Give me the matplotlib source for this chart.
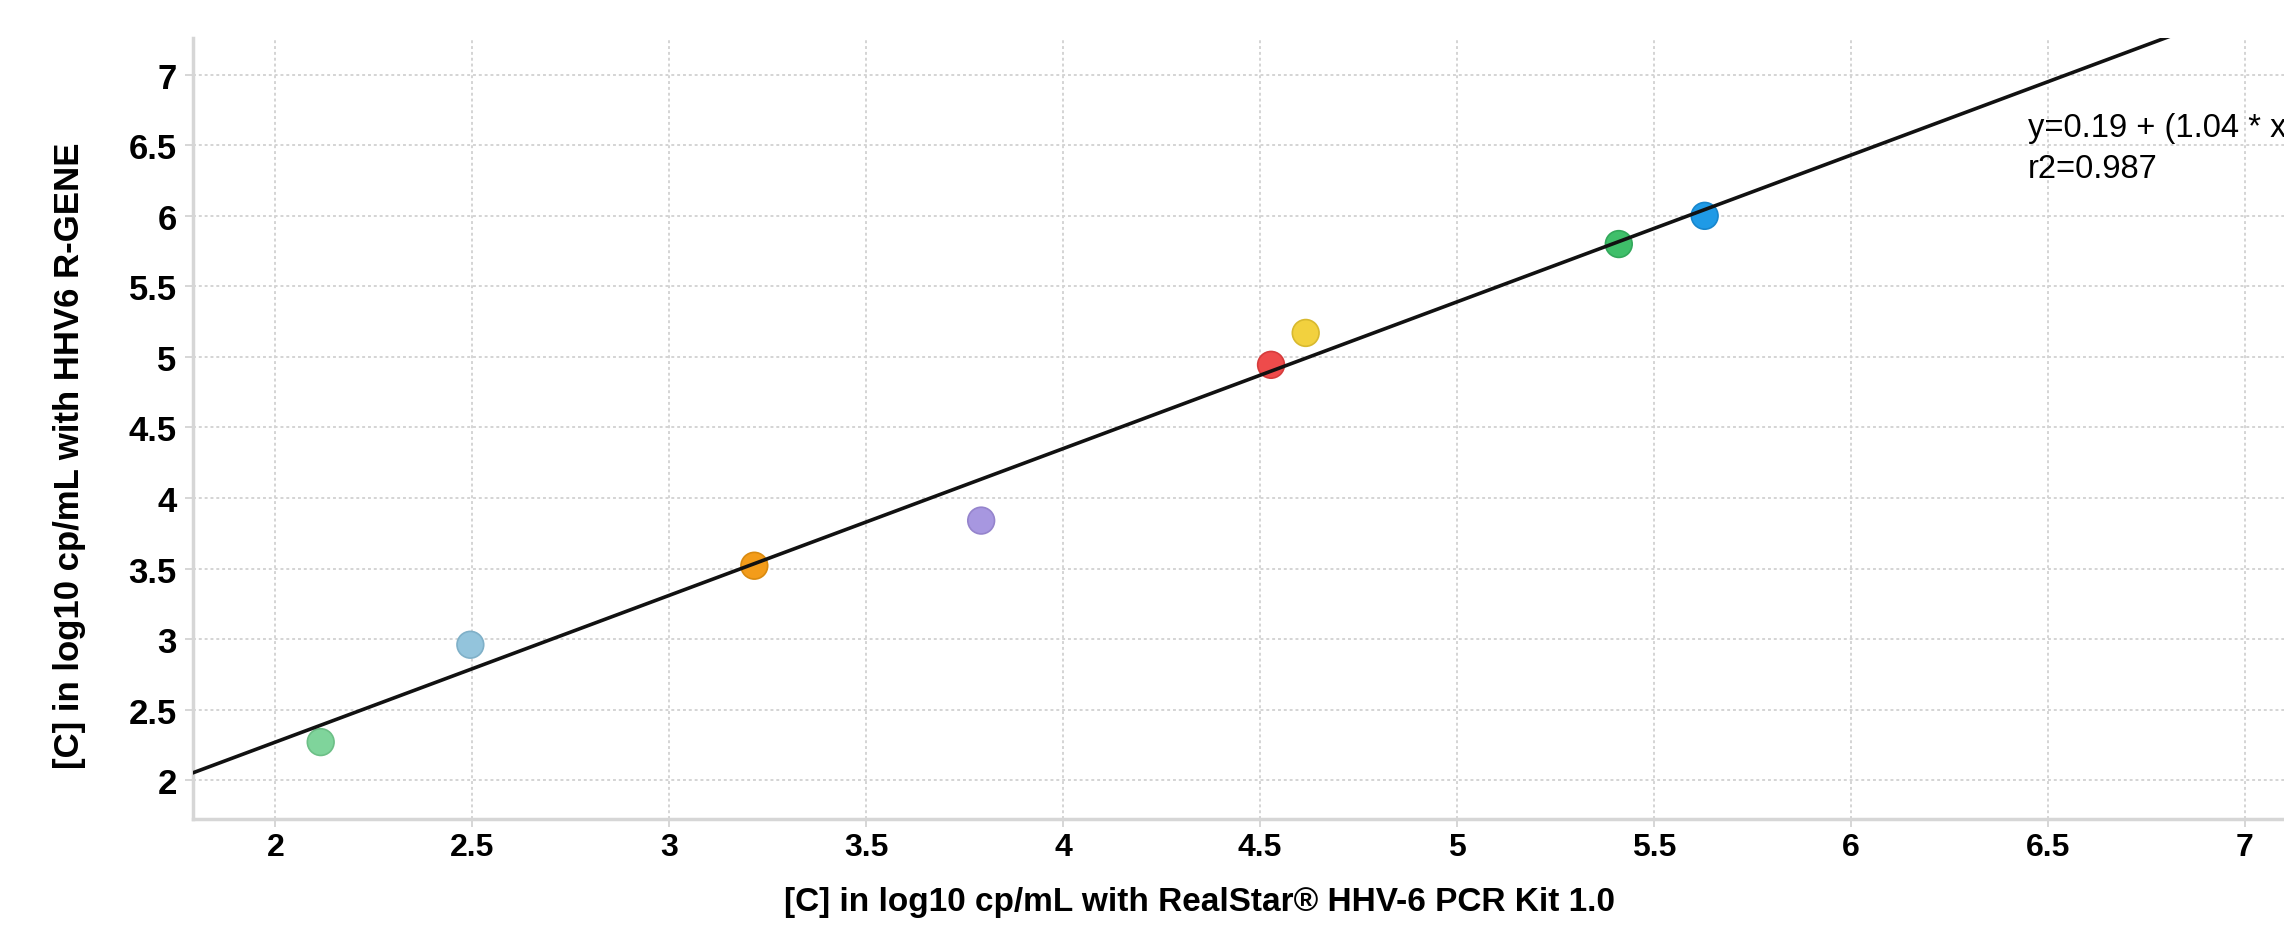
import matplotlib
matplotlib.use("Agg")
import matplotlib.pyplot as plt
import numpy as np

# Data
x_vals = [2.115, 2.495, 3.216, 3.792, 4.528, 4.616, 5.411, 5.629]
y_vals = [2.27, 2.96, 3.52, 3.84, 4.944, 5.17, 5.80, 6.00]
colors = ["#7fd49b", "#93c4dc", "#f39c1a", "#a797e0", "#ee4b4b", "#f2d13e", "#3fbf6a", "#1f9ae6"]
edge_colors = ["#6cbf86", "#7fb0c8", "#d98a10", "#9584cc", "#d63c3c", "#d8b92e", "#33a85b", "#1886cc"]
intercept = 0.19
slope = 1.04
r2 = 0.987
xticks = [2, 2.5, 3, 3.5, 4, 4.5, 5, 5.5, 6, 6.5, 7]
yticks = [2, 2.5, 3, 3.5, 4, 4.5, 5, 5.5, 6, 6.5, 7]
xlabel = "[C] in log10 cp/mL with RealStar® HHV-6 PCR Kit 1.0"
ylabel = "[C] in log10 cp/mL with HHV6 R-GENE"

plt.rcParams['font.family'] = ['Liberation Sans', 'DejaVu Sans']

fig = plt.figure(figsize=(22.84, 9.28), dpi=100)
ax = fig.add_axes([192.7 / 2284, (928 - 819.7) / 928, (2284 - 192.7) / 2284, (819.7 - 38.5) / 928])

xmin, xmax = 1.79, 7.10
ymin, ymax = 1.727, 7.264
ax.set_xlim(xmin, xmax)
ax.set_ylim(ymin, ymax)

ax.grid(True, color="#d4d4d4", linestyle=(0, (1.5, 1.5)), linewidth=1.4, zorder=0)
ax.set_axisbelow(True)

ax.scatter(x_vals, y_vals, s=370, c=colors, edgecolors=edge_colors, linewidths=1.2, zorder=3)

xl = np.array([xmin, xmax])
ax.plot(xl, intercept + slope * xl, color="#111111", linewidth=2.6, zorder=4, clip_on=True)

ax.set_xticks(xticks)
ax.set_yticks(yticks)
ax.set_xticklabels([f"{t:g}" for t in xticks])
ax.set_yticklabels([f"{t:g}" for t in yticks])
ax.tick_params(axis="both", length=5.5, width=1.2, color="#d0d0d0")
ax.tick_params(axis="y", labelsize=25, pad=6)
ax.tick_params(axis="x", labelsize=23, pad=4)
for lab in ax.get_xticklabels() + ax.get_yticklabels():
    lab.set_fontweight("bold")

for s in ["top", "right"]:
    ax.spines[s].set_visible(False)
for s in ["left", "bottom"]:
    ax.spines[s].set_color("#d6d6d6")
    ax.spines[s].set_linewidth(2.5)

fig.text(1199 / 2284, 1 - 903 / 928, xlabel, ha="center", va="center",
         fontsize=24, fontweight="bold")
fig.text(70 / 2284, 1 - 456 / 928, ylabel, ha="center", va="center", rotation=90,
         fontsize=25, fontweight="bold")

# Equation annotation (cut off at the right edge, as in the reference)
fig.text(2028 / 2284, 1 - 137 / 928, f"y={intercept:g} + ({slope:g} * x)", ha="left", va="baseline", fontsize=23.5)
fig.text(2028 / 2284, 1 - 178 / 928, f"r2={r2:g}", ha="left", va="baseline", fontsize=23.5)

fig.savefig("out.png", dpi=100)
